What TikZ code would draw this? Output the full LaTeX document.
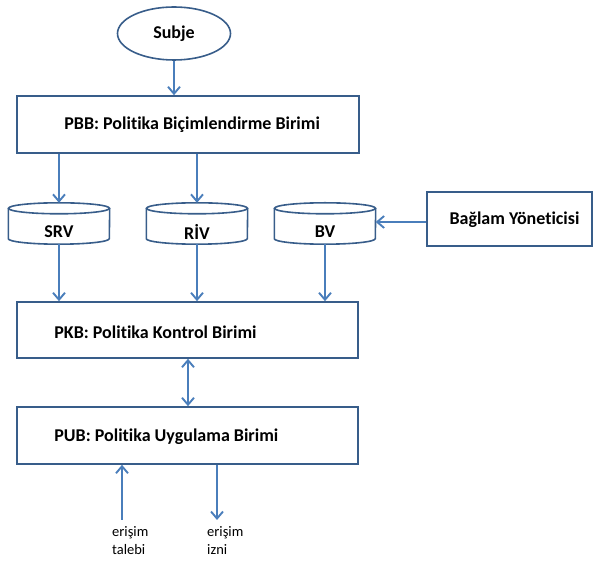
\documentclass[tikz,border=0pt]{standalone}
\usepackage{fontspec}
\setmainfont{Carlito}[Ligatures={NoCommon}]
\usetikzlibrary{arrows.meta,shapes.geometric}
\definecolor{edge}{HTML}{385D8A}
\definecolor{flow}{HTML}{4A7EBB}
\tikzset{
  box/.style={draw=edge, line width=1.6pt, fill=white, rectangle, inner sep=0pt},
  boxtext/.style={font=\fontsize{18}{21}\selectfont\bfseries, inner sep=0pt, anchor=west},
  cyltext/.style={font=\fontsize{18}{21}\selectfont\bfseries, inner sep=0pt},
  small/.style={font=\fontsize{14.5}{18}\selectfont, align=left, inner sep=0pt, anchor=north west},
  tip/.style={Straight Barb[length=7pt,width=12pt,line width=1.8pt]},
  flowarrow/.style={draw=flow, line width=1.9pt, -{Straight Barb[length=7pt,width=12pt]}},
  bothways/.style={draw=flow, line width=1.9pt, {Straight Barb[length=7pt,width=12pt]}-{Straight Barb[length=7pt,width=12pt]}},
}
% cylinder drawn around a named node: full top ellipse, lower half of the bottom one
\newcommand{\drum}[1]{%
  \draw[draw=edge, line width=1.6pt]
    ([yshift=-5.5pt]#1.north west) -- ([yshift=5.5pt]#1.south west)
    arc[start angle=180, end angle=360, x radius=50.5pt, y radius=5.5pt]
    -- ([yshift=-5.5pt]#1.north east);
  \draw[draw=edge, line width=1.6pt] ([yshift=-5.5pt]#1.north) ellipse [x radius=50.5pt, y radius=5.5pt];
}
\begin{document}
\begin{tikzpicture}[x=1pt, y=1pt]
\useasboundingbox (0,0) rectangle (595,562);

% source
\node[draw=edge, line width=1.6pt, ellipse, minimum width=113pt, minimum height=53pt, inner sep=0pt,
      font=\fontsize{18}{21}\selectfont\bfseries] (subje) at (174,528.5) {Subje};

% policy formulation unit
\node[box, minimum width=342pt, minimum height=57pt] (pbb) at (188,437.5) {};
\node[boxtext] (pbbl) at ([xshift=48pt]pbb.west) {PBB: Politika Biçimlendirme Birimi};

% repositories
\node[minimum width=101pt, minimum height=41pt, inner sep=0pt] (srv) at (59,338.5) {};
\node[minimum width=101pt, minimum height=41pt, inner sep=0pt] (riv) at (197,338.5) {};
\node[minimum width=101pt, minimum height=41pt, inner sep=0pt] (bv) at (325,338.5) {};
\drum{srv}
\drum{riv}
\drum{bv}
\node[cyltext] (srvl) at ([yshift=-8pt]srv.center) {SRV};
\node[cyltext] (rivl) at ([yshift=-8pt]riv.center) {RİV};
\node[cyltext] (bvl) at ([yshift=-8pt]bv.center) {BV};

% context manager
\node[box, minimum width=165pt, minimum height=54pt] (bag) at (509.5,343) {};
\node[cyltext] (bagl) at ([xshift=5pt,yshift=-1pt]bag.center) {Bağlam Yöneticisi};

% policy decision unit
\node[box, minimum width=341pt, minimum height=56pt] (pkb) at (187.5,232) {};
\node[boxtext] (pkbl) at ([xshift=38pt,yshift=-2pt]pkb.west) {PKB: Politika Kontrol Birimi};

% policy enforcement unit
\node[box, minimum width=341pt, minimum height=57pt] (pub) at (187.5,126.5) {};
\node[boxtext] (publ) at ([xshift=38pt,yshift=-1pt]pub.west) {PUB: Politika Uygulama Birimi};

% request / permit ends
\coordinate (req) at (122,42);
\coordinate (perm) at (217,42);
\node[small] (reql) at (112,36) {erişim\\talebi};
\node[small] (perml) at (207,36) {erişim\\izni};

% connectors
\draw[flowarrow] (subje.south) -- (subje.south |- pbb.north);
\draw[flowarrow] (pbb.south -| srv.north) -- (srv.north);
\draw[flowarrow] (pbb.south -| riv.north) -- (riv.north);
\draw[flowarrow] (bag.west |- 0,340) -- (bv.east |- 0,340);
\draw[flowarrow] (srv.south) -- (srv.south |- pkb.north);
\draw[flowarrow] (riv.south) -- (riv.south |- pkb.north);
\draw[flowarrow] (bv.south) -- (bv.south |- pkb.north);
\draw[bothways] (pkb.south -| 188,0) -- (pub.north -| 188,0);
\draw[flowarrow] (req) -- (req |- pub.south);
\draw[flowarrow] (perm |- pub.south) -- (perm);
\end{tikzpicture}
\end{document}
